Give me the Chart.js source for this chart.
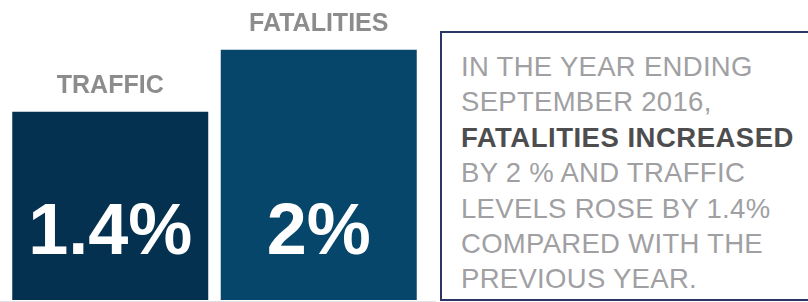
<!DOCTYPE html>
<html>
<head>
<meta charset="utf-8">
<script src="https://cdn.jsdelivr.net/npm/chart.js@4"></script>
<style>
  html, body { margin: 0; padding: 0; background: #fff; }
  body { width: 808px; height: 302px; position: relative; overflow: hidden; font-family: "Liberation Sans", Arial, sans-serif; }
  #chart-wrap { position: absolute; left: 0; top: 0; width: 440px; height: 302px; }
  #note {
    position: absolute; left: 440px; top: 31px; width: 380px; height: 266px;
    border: 2px solid #2b3566; border-right: none;
    box-sizing: content-box;
  }
  #note p {
    margin: 0; padding: 16px 0 0 19px;
    font-size: 27.5px; line-height: 35.4px; color: #a0a0a3;
    letter-spacing: 0.3px;
  }
  #note b { color: #4d4d4f; letter-spacing: 0.5px; }
</style>
</head>
<body>
<div id="chart-wrap"><canvas id="budgetChart"></canvas></div>
<div id="note">
  <p>IN THE YEAR ENDING<br>SEPTEMBER 2016,<br><b>FATALITIES INCREASED</b><br>BY 2 % AND TRAFFIC<br>LEVELS ROSE BY 1.4%<br>COMPARED WITH THE<br>PREVIOUS YEAR.</p>
</div>
<script>
const categories = ['TRAFFIC', 'FATALITIES'];
const changeValues = [1.4, 2];
const barColors = ['#04314f', '#05466a'];

// the bars in the original are not drawn from zero
const yMin = -0.42;
const yMax = 2.48;

const barLabels = {
    id: 'barLabels',
    afterDatasetsDraw(chart) {
        const ctx = chart.ctx;
        const meta = chart.getDatasetMeta(0);
        ctx.save();
        ctx.textAlign = 'center';
        ctx.textBaseline = 'alphabetic';
        meta.data.forEach((bar, i) => {
            ctx.fillStyle = '#8c8c8e';
            ctx.font = 'bold 25px "Liberation Sans", Arial, sans-serif';
            ctx.fillText(categories[i], bar.x, bar.y - 19);

            ctx.fillStyle = '#ffffff';
            ctx.font = 'bold 72px "Liberation Sans", Arial, sans-serif';
            ctx.fillText(`${changeValues[i]}%`, bar.x, bar.base - 46);
        });
        // light baseline under the bars
        ctx.strokeStyle = '#e3e3e5';
        ctx.lineWidth = 1;
        ctx.beginPath();
        ctx.moveTo(0, chart.chartArea.bottom + 1.5);
        ctx.lineTo(436, chart.chartArea.bottom + 1.5);
        ctx.stroke();
        ctx.restore();
    }
};

const ctx = document.getElementById('budgetChart').getContext('2d');
new Chart(ctx, {
    type: 'bar',
    data: {
        labels: categories,
        datasets: [{
            data: changeValues,
            base: yMin,
            backgroundColor: barColors,
            borderWidth: 0,
            barPercentage: 0.94,
            categoryPercentage: 1
        }]
    },
    options: {
        responsive: true,
        maintainAspectRatio: false,
        animation: false,
        layout: { padding: { left: 6, right: 17, top: 0, bottom: 2 } },
        plugins: {
            legend: { display: false },
            tooltip: { enabled: false }
        },
        scales: {
            x: { display: false },
            y: { display: false, min: yMin, max: yMax }
        }
    },
    plugins: [barLabels]
});
</script>
</body>
</html>
